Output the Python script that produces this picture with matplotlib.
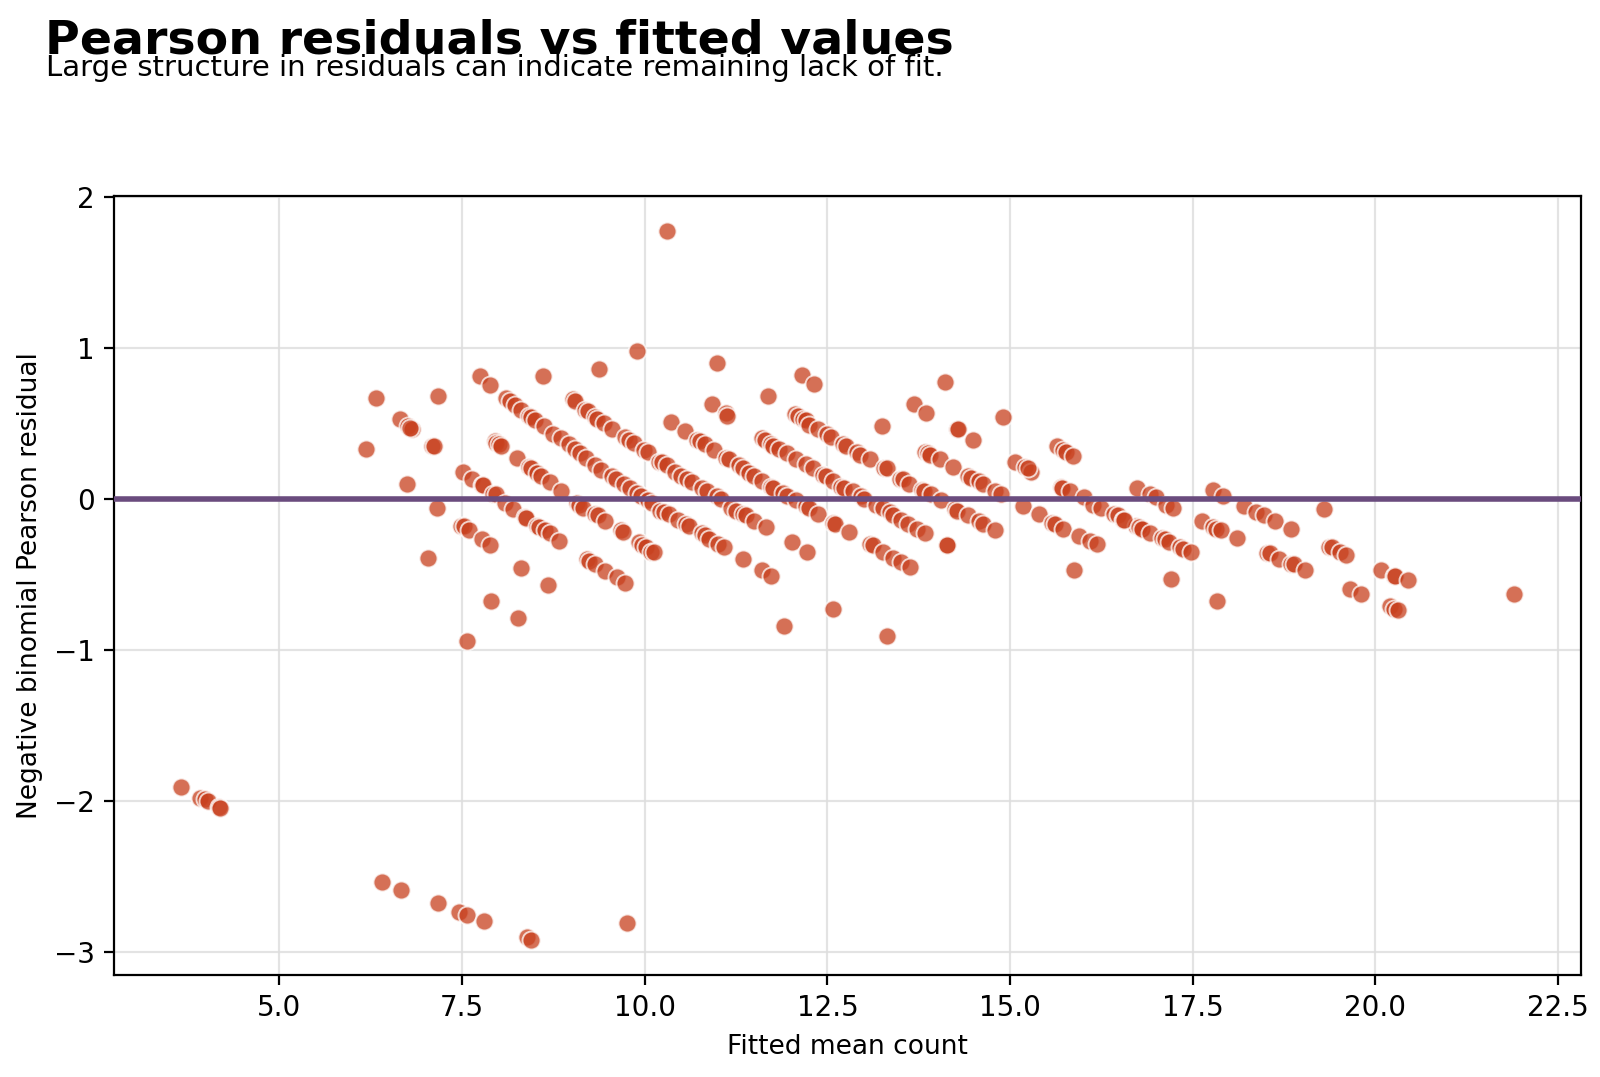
import matplotlib
matplotlib.use("Agg")
import matplotlib.pyplot as plt

fitted_mean = [
    3.65, 3.92, 3.98, 4.02, 4.18, 4.19,
    6.40, 6.67, 7.17, 7.46, 7.57, 7.80, 8.39, 8.45, 9.76,
    10.31,
    6.18, 6.32, 6.65, 6.76, 6.81, 6.79, 6.75, 7.09, 7.11, 7.17, 7.15, 7.03,
    7.74, 7.88, 8.61, 9.37, 9.90,
    7.49, 7.52, 7.60, 7.77, 7.88,
    7.57, 7.90, 8.27, 8.30, 8.67,
    9.21, 9.24, 9.32, 9.46, 9.62, 9.73,
    7.51, 7.63, 7.77, 7.79, 7.93, 7.97, 8.09, 8.20, 8.36, 8.38, 8.52, 8.55, 8.63, 8.70, 8.82,
    7.95, 7.97, 8.00, 8.03, 8.25, 8.41, 8.44, 8.52, 8.58, 8.70, 8.86,
    8.10, 8.15, 8.22, 8.30, 8.41, 8.45, 8.50, 8.62, 8.75, 8.85, 8.96, 9.05, 9.12, 9.20, 9.32, 9.40,
    9.55, 9.60, 9.71, 9.80, 9.89, 9.95, 10.05, 10.10, 10.21, 10.27, 10.33, 10.45, 10.56, 10.60,
    10.79, 10.82, 10.88, 11.00, 11.09, 11.34,
    9.02, 9.05, 9.18, 9.22, 9.32, 9.35, 9.44, 9.55, 9.73, 9.78, 9.85, 9.99, 10.04, 10.19, 10.24,
    10.30, 10.42, 10.50, 10.58, 10.64, 10.79, 10.85, 10.99, 11.05, 11.18, 11.25, 11.34, 11.38,
    11.50, 11.66,
    9.07, 9.10, 9.16, 9.32, 9.36, 9.46, 9.67, 9.70, 9.92, 9.96, 10.02, 10.08, 10.12,
    10.99, 12.15, 12.31, 11.68, 10.92, 11.11, 11.13, 13.25, 11.61, 11.73, 12.01, 12.22, 12.57,
    11.90, 13.31,
    10.36, 10.55, 10.72, 10.76, 10.83, 10.95, 11.11, 11.15, 11.29, 11.35, 11.43, 11.50, 11.61,
    11.73, 11.76, 11.89, 11.95, 12.07, 12.21, 12.25, 12.37, 12.57, 12.60, 12.80, 13.08, 13.12,
    13.26, 13.40, 13.51, 13.63,
    11.61, 11.64, 11.73, 11.76, 11.84, 11.95, 12.07, 12.21, 12.30, 12.44, 12.48, 12.58, 12.69,
    12.72, 12.85, 12.96, 13.00, 13.17, 13.26, 13.35, 13.40, 13.51, 13.60, 13.72, 13.83,
    12.05, 12.10, 12.16, 12.20, 12.25, 12.37, 12.50, 12.55, 12.71, 12.75, 12.90, 12.95, 13.08,
    13.28, 13.31, 13.49, 13.53, 13.62, 13.79, 13.82, 13.92, 14.06, 14.24, 14.28, 14.43, 14.57,
    14.63, 14.79,
    14.11, 13.69, 13.85, 14.90, 14.28, 14.29, 14.49, 14.13, 14.14,
    13.83, 13.87, 13.90, 14.04, 14.22, 14.43, 14.47, 14.57, 14.63, 14.79, 14.88,
    15.07, 15.21, 15.28, 15.24,
    15.64, 15.73, 15.76, 15.86,
    15.69, 15.71, 15.82, 16.01, 16.14, 16.24, 16.42, 16.47, 16.54, 16.72, 16.79,
    15.18, 15.39, 15.57, 15.62, 15.73, 15.94, 16.10, 16.19,
    15.87,
    16.74, 16.92, 16.99, 17.13, 17.23,
    16.56, 16.76, 16.80, 16.92, 17.08, 17.12, 17.17, 17.33, 17.36, 17.47,
    17.20,
    17.78, 17.91,
    17.63, 17.78, 17.82, 17.89, 18.11,
    18.20, 18.37, 18.48, 18.63, 18.84,
    17.83,
    18.52, 18.56, 18.68, 18.84, 18.88, 19.03,
    19.29,
    19.37, 19.40, 19.51, 19.60,
    19.65, 19.80,
    20.08, 20.25, 20.27, 20.44,
    20.20, 20.25, 20.31,
    21.90,
]

pearson_resid = [
    -1.91, -1.98, -1.99, -2.00, -2.04, -2.05,
    -2.54, -2.59, -2.68, -2.74, -2.76, -2.80, -2.90, -2.92, -2.81,
    1.77,
    0.33, 0.67, 0.53, 0.48, 0.46, 0.47, 0.10, 0.35, 0.35, 0.68, -0.06, -0.39,
    0.81, 0.75, 0.81, 0.86, 0.98,
    -0.18, -0.18, -0.21, -0.27, -0.31,
    -0.94, -0.68, -0.79, -0.46, -0.57,
    -0.40, -0.41, -0.43, -0.48, -0.52, -0.56,
    0.18, 0.13, 0.09, 0.09, 0.03, 0.03, -0.03, -0.07, -0.12, -0.13, -0.18, -0.19, -0.21, -0.23, -0.28,
    0.38, 0.37, 0.36, 0.35, 0.27, 0.21, 0.20, 0.17, 0.15, 0.11, 0.05,
    0.67, 0.65, 0.62, 0.59, 0.55, 0.54, 0.52, 0.48, 0.43, 0.40, 0.36, 0.33, 0.30, 0.27, 0.22, 0.19,
    0.15, 0.13, 0.10, 0.07, 0.04, 0.02, -0.01, -0.03, -0.08, -0.09, -0.10, -0.14, -0.17, -0.18,
    -0.23, -0.24, -0.27, -0.30, -0.32, -0.40,
    0.66, 0.65, 0.59, 0.58, 0.54, 0.53, 0.50, 0.46, 0.41, 0.39, 0.37, 0.32, 0.31, 0.24, 0.24,
    0.22, 0.18, 0.15, 0.13, 0.11, 0.07, 0.05, 0.02, 0.00, -0.06, -0.08, -0.10, -0.11,
    -0.15, -0.19,
    -0.03, -0.04, -0.06, -0.10, -0.11, -0.15, -0.21, -0.22, -0.29, -0.31, -0.32, -0.35, -0.35,
    0.90, 0.82, 0.76, 0.68, 0.63, 0.57, 0.55, 0.48, -0.47, -0.51, -0.29, -0.35, -0.73,
    -0.84, -0.91,
    0.51, 0.45, 0.39, 0.38, 0.36, 0.32, 0.27, 0.26, 0.22, 0.20, 0.17, 0.15, 0.12,
    0.08, 0.07, 0.04, 0.02, -0.01, -0.05, -0.06, -0.10, -0.16, -0.17, -0.22, -0.30, -0.31,
    -0.35, -0.39, -0.42, -0.45,
    0.40, 0.39, 0.36, 0.35, 0.33, 0.30, 0.26, 0.23, 0.20, 0.16, 0.15, 0.12, 0.08,
    0.07, 0.05, 0.02, 0.00, -0.04, -0.06, -0.09, -0.11, -0.14, -0.17, -0.20, -0.23,
    0.56, 0.55, 0.53, 0.52, 0.49, 0.46, 0.43, 0.41, 0.36, 0.35, 0.31, 0.29, 0.26,
    0.20, 0.20, 0.13, 0.13, 0.10, 0.06, 0.05, 0.03, -0.01, -0.07, -0.08, -0.11, -0.15,
    -0.17, -0.21,
    0.77, 0.63, 0.57, 0.54, 0.46, 0.46, 0.39, -0.31, -0.31,
    0.31, 0.30, 0.29, 0.26, 0.21, 0.15, 0.14, 0.12, 0.10, 0.05, 0.03,
    0.24, 0.21, 0.18, 0.20,
    0.35, 0.32, 0.31, 0.28,
    0.08, 0.07, 0.05, 0.01, -0.04, -0.06, -0.10, -0.11, -0.14, -0.18, -0.20,
    -0.05, -0.10, -0.16, -0.17, -0.20, -0.25, -0.28, -0.30,
    -0.47,
    0.07, 0.03, 0.01, -0.04, -0.06,
    -0.14, -0.19, -0.20, -0.23, -0.26, -0.27, -0.29, -0.32, -0.33, -0.35,
    -0.53,
    0.06, 0.02,
    -0.15, -0.19, -0.20, -0.21, -0.26,
    -0.05, -0.09, -0.11, -0.15, -0.20,
    -0.68,
    -0.36, -0.36, -0.40, -0.43, -0.43, -0.47,
    -0.07,
    -0.32, -0.32, -0.35, -0.37,
    -0.60, -0.63,
    -0.47, -0.51, -0.51, -0.54,
    -0.71, -0.73, -0.74,
    -0.63,
]

title = "Pearson residuals vs fitted values"
subtitle = "Large structure in residuals can indicate remaining lack of fit."
xlabel = "Fitted mean count"
ylabel = "Negative binomial Pearson residual"

fig = plt.figure(figsize=(8.0, 5.385), dpi=200)
ax = fig.add_axes([0.0713, 0.0947, 0.9168, 0.7233])

ax.scatter(fitted_mean, pearson_resid, s=42, color="#C8401E", alpha=0.75,
           edgecolors="white", linewidths=0.7, zorder=2)
ax.axhline(0, color="#6a4c7e", linewidth=2.0, zorder=3)

ax.grid(True, color="#dddddd", linewidth=0.8, alpha=0.8)
ax.set_axisbelow(True)
ax.set_xlabel(xlabel, fontsize=9.5)
ax.set_ylabel(ylabel, fontsize=9.5)
ax.tick_params(labelsize=10)
ax.set_yticks([-3, -2, -1, 0, 1, 2])

fig.text(0.028, 0.983, title, fontsize=17.1, fontweight="bold", va="top", ha="left")
fig.text(0.029, 0.950, subtitle, fontsize=10.5, va="top", ha="left")

fig.savefig("out.png", dpi=200)
